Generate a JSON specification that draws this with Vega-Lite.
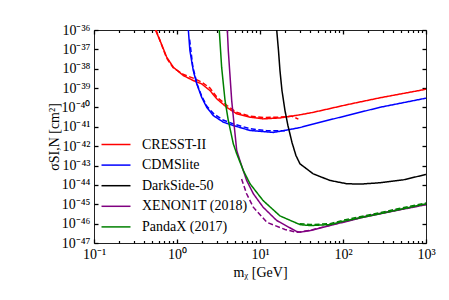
{
  "$schema": "https://vega.github.io/schema/vega-lite/v6.json",
  "autosize": {"type": "none"},
  "padding": {"left": 94, "top": 30, "right": 23, "bottom": 57},
  "width": 332,
  "height": 213,
  "background": "white",
  "data": {"values": [
    {"experiment": "CRESST-II", "style": "solid", "mass": 0.55, "sigma": 1e-36},
    {"experiment": "CRESST-II", "style": "solid", "mass": 0.624, "sigma": 2.88e-37},
    {"experiment": "CRESST-II", "style": "solid", "mass": 0.751, "sigma": 3.98e-38},
    {"experiment": "CRESST-II", "style": "solid", "mass": 0.902, "sigma": 1.20e-38},
    {"experiment": "CRESST-II", "style": "solid", "mass": 1.19, "sigma": 4.47e-39},
    {"experiment": "CRESST-II", "style": "solid", "mass": 1.57, "sigma": 2.45e-39},
    {"experiment": "CRESST-II", "style": "solid", "mass": 1.98, "sigma": 1.66e-39},
    {"experiment": "CRESST-II", "style": "solid", "mass": 2.5, "sigma": 7.41e-40},
    {"experiment": "CRESST-II", "style": "solid", "mass": 3.01, "sigma": 2.82e-40},
    {"experiment": "CRESST-II", "style": "solid", "mass": 3.97, "sigma": 1.02e-40},
    {"experiment": "CRESST-II", "style": "solid", "mass": 5.24, "sigma": 4.68e-41},
    {"experiment": "CRESST-II", "style": "solid", "mass": 7.58, "sigma": 3.16e-41},
    {"experiment": "CRESST-II", "style": "solid", "mass": 10.9, "sigma": 2.57e-41},
    {"experiment": "CRESST-II", "style": "solid", "mass": 17.4, "sigma": 2.88e-41},
    {"experiment": "CRESST-II", "style": "solid", "mass": 30.3, "sigma": 4.17e-41},
    {"experiment": "CRESST-II", "style": "solid", "mass": 44, "sigma": 5.62e-41},
    {"experiment": "CRESST-II", "style": "solid", "mass": 111, "sigma": 1.38e-40},
    {"experiment": "CRESST-II", "style": "solid", "mass": 279, "sigma": 3.16e-40},
    {"experiment": "CRESST-II", "style": "solid", "mass": 1000, "sigma": 8.71e-40},
    {"experiment": "CRESST-II", "style": "dashed", "mass": 0.56, "sigma": 1e-36},
    {"experiment": "CRESST-II", "style": "dashed", "mass": 0.63, "sigma": 2.51e-37},
    {"experiment": "CRESST-II", "style": "dashed", "mass": 0.75, "sigma": 3.55e-38},
    {"experiment": "CRESST-II", "style": "dashed", "mass": 0.9, "sigma": 1.12e-38},
    {"experiment": "CRESST-II", "style": "dashed", "mass": 1.2, "sigma": 5.01e-39},
    {"experiment": "CRESST-II", "style": "dashed", "mass": 1.6, "sigma": 3.16e-39},
    {"experiment": "CRESST-II", "style": "dashed", "mass": 2.0, "sigma": 2.00e-39},
    {"experiment": "CRESST-II", "style": "dashed", "mass": 2.5, "sigma": 1.00e-39},
    {"experiment": "CRESST-II", "style": "dashed", "mass": 3.0, "sigma": 3.55e-40},
    {"experiment": "CRESST-II", "style": "dashed", "mass": 4.0, "sigma": 1.26e-40},
    {"experiment": "CRESST-II", "style": "dashed", "mass": 5.2, "sigma": 5.62e-41},
    {"experiment": "CRESST-II", "style": "dashed", "mass": 7.6, "sigma": 3.55e-41},
    {"experiment": "CRESST-II", "style": "dashed", "mass": 11, "sigma": 3.02e-41},
    {"experiment": "CRESST-II", "style": "dashed", "mass": 17, "sigma": 3.16e-41},
    {"experiment": "CRESST-II", "style": "dashed", "mass": 24, "sigma": 3.55e-41},
    {"experiment": "CRESST-II", "style": "dashed", "mass": 29, "sigma": 2.51e-41},
    {"experiment": "CDMSlite", "style": "solid", "mass": 1.37, "sigma": 1e-36},
    {"experiment": "CDMSlite", "style": "solid", "mass": 1.43, "sigma": 8.71e-38},
    {"experiment": "CDMSlite", "style": "solid", "mass": 1.57, "sigma": 8.13e-39},
    {"experiment": "CDMSlite", "style": "solid", "mass": 1.73, "sigma": 1.66e-39},
    {"experiment": "CDMSlite", "style": "solid", "mass": 1.98, "sigma": 3.39e-40},
    {"experiment": "CDMSlite", "style": "solid", "mass": 2.28, "sigma": 1.02e-40},
    {"experiment": "CDMSlite", "style": "solid", "mass": 2.74, "sigma": 3.80e-41},
    {"experiment": "CDMSlite", "style": "solid", "mass": 3.61, "sigma": 1.74e-41},
    {"experiment": "CDMSlite", "style": "solid", "mass": 4.77, "sigma": 1.17e-41},
    {"experiment": "CDMSlite", "style": "solid", "mass": 7.58, "sigma": 6.46e-42},
    {"experiment": "CDMSlite", "style": "solid", "mass": 14.5, "sigma": 5.13e-42},
    {"experiment": "CDMSlite", "style": "solid", "mass": 17.4, "sigma": 5.89e-42},
    {"experiment": "CDMSlite", "style": "solid", "mass": 30.3, "sigma": 9.12e-42},
    {"experiment": "CDMSlite", "style": "solid", "mass": 44, "sigma": 1.41e-41},
    {"experiment": "CDMSlite", "style": "solid", "mass": 111, "sigma": 3.80e-41},
    {"experiment": "CDMSlite", "style": "solid", "mass": 279, "sigma": 1.02e-40},
    {"experiment": "CDMSlite", "style": "solid", "mass": 1000, "sigma": 3.02e-40},
    {"experiment": "CDMSlite", "style": "dashed", "mass": 1.42, "sigma": 3.16e-37},
    {"experiment": "CDMSlite", "style": "dashed", "mass": 1.55, "sigma": 1.26e-38},
    {"experiment": "CDMSlite", "style": "dashed", "mass": 1.75, "sigma": 1.58e-39},
    {"experiment": "CDMSlite", "style": "dashed", "mass": 2.0, "sigma": 3.55e-40},
    {"experiment": "CDMSlite", "style": "dashed", "mass": 2.3, "sigma": 1.12e-40},
    {"experiment": "CDMSlite", "style": "dashed", "mass": 2.8, "sigma": 4.47e-41},
    {"experiment": "CDMSlite", "style": "dashed", "mass": 3.6, "sigma": 2.24e-41},
    {"experiment": "CDMSlite", "style": "dashed", "mass": 4.8, "sigma": 1.41e-41},
    {"experiment": "CDMSlite", "style": "dashed", "mass": 7.6, "sigma": 7.94e-42},
    {"experiment": "CDMSlite", "style": "dashed", "mass": 12, "sigma": 6.31e-42},
    {"experiment": "CDMSlite", "style": "dashed", "mass": 20, "sigma": 6.31e-42},
    {"experiment": "DarkSide-50", "style": "solid", "mass": 15.9, "sigma": 1e-36},
    {"experiment": "DarkSide-50", "style": "solid", "mass": 16.7, "sigma": 8.71e-38},
    {"experiment": "DarkSide-50", "style": "solid", "mass": 17.4, "sigma": 8.13e-39},
    {"experiment": "DarkSide-50", "style": "solid", "mass": 18.4, "sigma": 7.41e-40},
    {"experiment": "DarkSide-50", "style": "solid", "mass": 20.0, "sigma": 6.92e-41},
    {"experiment": "DarkSide-50", "style": "solid", "mass": 21.7, "sigma": 1.17e-41},
    {"experiment": "DarkSide-50", "style": "solid", "mass": 24.3, "sigma": 1.55e-42},
    {"experiment": "DarkSide-50", "style": "solid", "mass": 27.1, "sigma": 3.31e-43},
    {"experiment": "DarkSide-50", "style": "solid", "mass": 30.3, "sigma": 1.23e-43},
    {"experiment": "DarkSide-50", "style": "solid", "mass": 43.8, "sigma": 3.72e-44},
    {"experiment": "DarkSide-50", "style": "solid", "mass": 69.7, "sigma": 1.70e-44},
    {"experiment": "DarkSide-50", "style": "solid", "mass": 111, "sigma": 1.15e-44},
    {"experiment": "DarkSide-50", "style": "solid", "mass": 161, "sigma": 1.10e-44},
    {"experiment": "DarkSide-50", "style": "solid", "mass": 278, "sigma": 1.29e-44},
    {"experiment": "DarkSide-50", "style": "solid", "mass": 532, "sigma": 1.82e-44},
    {"experiment": "DarkSide-50", "style": "solid", "mass": 1000, "sigma": 3.47e-44},
    {"experiment": "XENON1T (2018)", "style": "solid", "mass": 4.04, "sigma": 1e-36},
    {"experiment": "XENON1T (2018)", "style": "solid", "mass": 4.15, "sigma": 8.71e-38},
    {"experiment": "XENON1T (2018)", "style": "solid", "mass": 4.56, "sigma": 2.29e-40},
    {"experiment": "XENON1T (2018)", "style": "solid", "mass": 5.0, "sigma": 4.37e-42},
    {"experiment": "XENON1T (2018)", "style": "solid", "mass": 5.24, "sigma": 6.03e-43},
    {"experiment": "XENON1T (2018)", "style": "solid", "mass": 5.73, "sigma": 1.82e-43},
    {"experiment": "XENON1T (2018)", "style": "solid", "mass": 6.9, "sigma": 1.70e-44},
    {"experiment": "XENON1T (2018)", "style": "solid", "mass": 8.32, "sigma": 3.47e-45},
    {"experiment": "XENON1T (2018)", "style": "solid", "mass": 10.9, "sigma": 7.08e-46},
    {"experiment": "XENON1T (2018)", "style": "solid", "mass": 15.9, "sigma": 1.45e-46},
    {"experiment": "XENON1T (2018)", "style": "solid", "mass": 27.7, "sigma": 3.89e-47},
    {"experiment": "XENON1T (2018)", "style": "solid", "mass": 30.3, "sigma": 3.63e-47},
    {"experiment": "XENON1T (2018)", "style": "solid", "mass": 40, "sigma": 4.37e-47},
    {"experiment": "XENON1T (2018)", "style": "solid", "mass": 69.7, "sigma": 7.94e-47},
    {"experiment": "XENON1T (2018)", "style": "solid", "mass": 176, "sigma": 2.14e-46},
    {"experiment": "XENON1T (2018)", "style": "solid", "mass": 444, "sigma": 4.79e-46},
    {"experiment": "XENON1T (2018)", "style": "solid", "mass": 1000, "sigma": 9.55e-46},
    {"experiment": "XENON1T (2018)", "style": "dashed", "mass": 6.0, "sigma": 2.04e-44},
    {"experiment": "XENON1T (2018)", "style": "dashed", "mass": 6.9, "sigma": 3.47e-45},
    {"experiment": "XENON1T (2018)", "style": "dashed", "mass": 8.3, "sigma": 7.08e-46},
    {"experiment": "XENON1T (2018)", "style": "dashed", "mass": 12.1, "sigma": 1.17e-46},
    {"experiment": "XENON1T (2018)", "style": "dashed", "mass": 20, "sigma": 5.01e-47},
    {"experiment": "XENON1T (2018)", "style": "dashed", "mass": 28, "sigma": 3.55e-47},
    {"experiment": "XENON1T (2018)", "style": "dashed", "mass": 40, "sigma": 4.47e-47},
    {"experiment": "XENON1T (2018)", "style": "dashed", "mass": 70, "sigma": 8.32e-47},
    {"experiment": "XENON1T (2018)", "style": "dashed", "mass": 176, "sigma": 2.24e-46},
    {"experiment": "XENON1T (2018)", "style": "dashed", "mass": 444, "sigma": 5.01e-46},
    {"experiment": "XENON1T (2018)", "style": "dashed", "mass": 1000, "sigma": 1.0e-45},
    {"experiment": "PandaX (2017)", "style": "solid", "mass": 3.23, "sigma": 1e-36},
    {"experiment": "PandaX (2017)", "style": "solid", "mass": 3.45, "sigma": 1.20e-38},
    {"experiment": "PandaX (2017)", "style": "solid", "mass": 3.79, "sigma": 2.29e-40},
    {"experiment": "PandaX (2017)", "style": "solid", "mass": 4.15, "sigma": 2.14e-41},
    {"experiment": "PandaX (2017)", "style": "solid", "mass": 4.77, "sigma": 1.32e-42},
    {"experiment": "PandaX (2017)", "style": "solid", "mass": 5.24, "sigma": 4.07e-43},
    {"experiment": "PandaX (2017)", "style": "solid", "mass": 6.3, "sigma": 5.50e-44},
    {"experiment": "PandaX (2017)", "style": "solid", "mass": 7.58, "sigma": 1.15e-44},
    {"experiment": "PandaX (2017)", "style": "solid", "mass": 10.9, "sigma": 1.55e-45},
    {"experiment": "PandaX (2017)", "style": "solid", "mass": 17.4, "sigma": 2.51e-46},
    {"experiment": "PandaX (2017)", "style": "solid", "mass": 30.3, "sigma": 8.91e-47},
    {"experiment": "PandaX (2017)", "style": "solid", "mass": 40, "sigma": 7.94e-47},
    {"experiment": "PandaX (2017)", "style": "solid", "mass": 69.7, "sigma": 8.91e-47},
    {"experiment": "PandaX (2017)", "style": "solid", "mass": 111, "sigma": 1.45e-46},
    {"experiment": "PandaX (2017)", "style": "solid", "mass": 278, "sigma": 3.24e-46},
    {"experiment": "PandaX (2017)", "style": "solid", "mass": 1000, "sigma": 1.05e-45},
    {"experiment": "PandaX (2017)", "style": "dashed", "mass": 30, "sigma": 1.0e-46},
    {"experiment": "PandaX (2017)", "style": "dashed", "mass": 40, "sigma": 8.91e-47},
    {"experiment": "PandaX (2017)", "style": "dashed", "mass": 70, "sigma": 1.0e-46},
    {"experiment": "PandaX (2017)", "style": "dashed", "mass": 111, "sigma": 1.66e-46},
    {"experiment": "PandaX (2017)", "style": "dashed", "mass": 278, "sigma": 3.72e-46},
    {"experiment": "PandaX (2017)", "style": "dashed", "mass": 1000, "sigma": 1.17e-45}
  ]},
  "resolve": {"axis": {"x": "independent", "y": "independent"}},
  "layer": [
    {
      "mark": {"type": "line", "strokeWidth": 1.5, "clip": true},
      "encoding": {
        "x": {
          "field": "mass", "type": "quantitative",
          "scale": {"type": "log", "domain": [0.1, 1000], "nice": false},
          "axis": {
            "orient": "bottom", "values": [0.1, 1, 10, 100, 1000],
            "offset": -4, "ticks": true, "tickSize": 4, "tickColor": "#000", "tickWidth": 1.3,
            "labelPadding": 4, "labelFlush": false, "labelOverlap": false,
            "labelExpr": "'10' + (datum.value < 0.5 ? '⁻¹' : substring('⁰¹²³', round(log(datum.value)/LN10), round(log(datum.value)/LN10)+1))",
            "title": "mᵪ [GeV]", "titlePadding": 4
          }
        },
        "y": {
          "field": "sigma", "type": "quantitative",
          "scale": {"type": "log", "domain": [1e-47, 1e-36], "nice": false},
          "axis": {
            "orient": "left",
            "values": [1e-47, 1e-46, 1e-45, 1e-44, 1e-43, 1e-42, 1e-41, 1e-40, 1e-39, 1e-38, 1e-37, 1e-36],
            "offset": -4, "ticks": true, "tickSize": 4, "tickColor": "#000", "tickWidth": 1.3,
            "labelPadding": 4, "labelFlush": false, "labelOverlap": false,
            "labelExpr": "'10⁻' + substring('⁰¹²³⁴⁵⁶⁷⁸⁹', floor(-round(log(datum.value)/LN10)/10), floor(-round(log(datum.value)/LN10)/10)+1) + substring('⁰¹²³⁴⁵⁶⁷⁸⁹', (-round(log(datum.value)/LN10))%10, (-round(log(datum.value)/LN10))%10+1)",
            "title": "σSI,N [cm²]", "titlePadding": 0
          }
        },
        "color": {
          "field": "experiment", "type": "nominal",
          "scale": {
            "domain": ["CRESST-II", "CDMSlite", "DarkSide-50", "XENON1T (2018)", "PandaX (2017)"],
            "range": ["#ff0000", "#0000ff", "#000000", "#800080", "#008000"]
          },
          "legend": {
            "orient": "none", "legendX": 14, "legendY": 106.5, "title": null,
            "symbolType": "M-2,0H2", "symbolSize": 210, "symbolStrokeWidth": 1.5,
            "labelOffset": 18, "rowPadding": 5.6, "padding": 0,
            "labelFont": "Liberation Serif", "labelFontSize": 14, "labelColor": "#000"
          }
        },
        "strokeDash": {
          "field": "style", "type": "nominal",
          "scale": {"domain": ["solid", "dashed"], "range": [[1, 0], [5, 2.5]]},
          "legend": null
        }
      }
    },
    {
      "mark": {"type": "point", "opacity": 0},
      "encoding": {
        "x": {
          "field": "mass", "type": "quantitative",
          "scale": {"type": "log", "domain": [0.1, 1000], "nice": false},
          "axis": {
            "orient": "bottom",
            "values": [0.2,0.3,0.4,0.5,0.6,0.7,0.8,0.9,2,3,4,5,6,7,8,9,20,30,40,50,60,70,80,90,200,300,400,500,600,700,800,900],
            "ticks": true, "tickSize": -2.5, "tickColor": "#000", "tickWidth": 1.2, "labels": false, "title": null
          }
        },
        "y": {
          "field": "sigma", "type": "quantitative",
          "scale": {"type": "log", "domain": [1e-47, 1e-36], "nice": false},
          "axis": {
            "orient": "right",
            "values": [1e-47, 1e-46, 1e-45, 1e-44, 1e-43, 1e-42, 1e-41, 1e-40, 1e-39, 1e-38, 1e-37, 1e-36],
            "ticks": true, "tickSize": -4, "tickColor": "#000", "tickWidth": 1.3, "labels": false, "title": null
          }
        }
      }
    },
    {
      "mark": {"type": "point", "opacity": 0},
      "encoding": {
        "x": {
          "field": "mass", "type": "quantitative",
          "scale": {"type": "log", "domain": [0.1, 1000], "nice": false},
          "axis": {"orient": "top", "values": [0.1, 1, 10, 100, 1000], "ticks": true, "tickSize": -4, "tickColor": "#000", "tickWidth": 1.3, "labels": false, "title": null}
        },
        "y": {
          "field": "sigma", "type": "quantitative",
          "scale": {"type": "log", "domain": [1e-47, 1e-36], "nice": false},
          "axis": null
        }
      }
    },
    {
      "mark": {"type": "point", "opacity": 0},
      "encoding": {
        "x": {
          "field": "mass", "type": "quantitative",
          "scale": {"type": "log", "domain": [0.1, 1000], "nice": false},
          "axis": {
            "orient": "top",
            "values": [0.2,0.3,0.4,0.5,0.6,0.7,0.8,0.9,2,3,4,5,6,7,8,9,20,30,40,50,60,70,80,90,200,300,400,500,600,700,800,900],
            "ticks": true, "tickSize": -2.5, "tickColor": "#000", "tickWidth": 1.2, "labels": false, "title": null
          }
        },
        "y": {
          "field": "sigma", "type": "quantitative",
          "scale": {"type": "log", "domain": [1e-47, 1e-36], "nice": false},
          "axis": null
        }
      }
    }
  ],
  "config": {
    "view": {"stroke": "#222", "strokeWidth": 1},
    "axis": {
      "domain": false, "grid": false,
      "labelFont": "Liberation Serif", "labelFontSize": 14, "labelColor": "#000",
      "titleFont": "Liberation Serif", "titleFontSize": 14, "titleFontWeight": "normal", "titleColor": "#000"
    }
  }
}
